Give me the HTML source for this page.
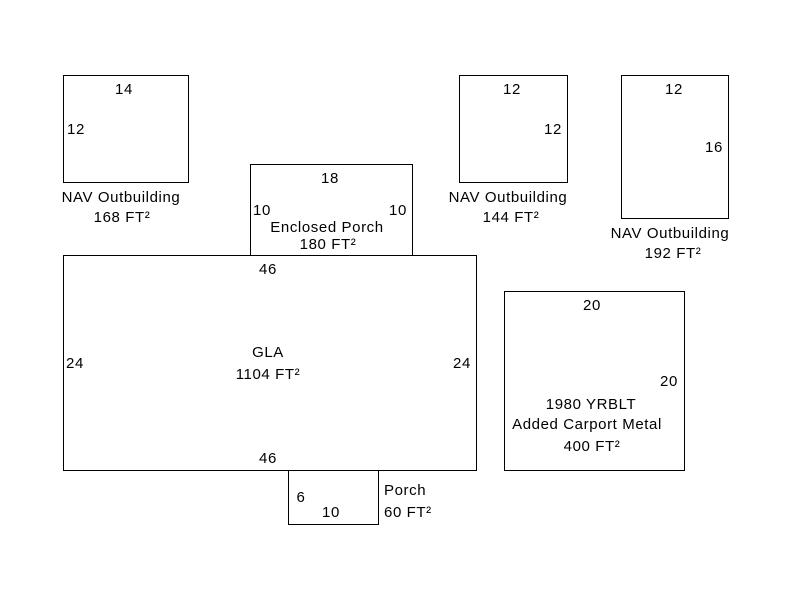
<!DOCTYPE html>
<html><head><style>body{margin:0;background:#fff}svg{display:block}</style></head><body>
<svg width="800" height="600" xmlns="http://www.w3.org/2000/svg" font-family="Liberation Sans, Arial, sans-serif" font-size="15" fill="#000">
<g fill="none" stroke="#000" stroke-width="1">
<rect x="63.5" y="75.5" width="125" height="107"/>
<rect x="250.5" y="164.5" width="162" height="91"/>
<rect x="459.5" y="75.5" width="108" height="107"/>
<rect x="621.5" y="75.5" width="107" height="143"/>
<rect x="63.5" y="255.5" width="413" height="215"/>
<rect x="504.5" y="291.5" width="180" height="179"/>
<rect x="288.5" y="470.5" width="90" height="54"/>
</g>
<g text-anchor="middle" letter-spacing="0.6">
<text x="124" y="94">14</text>
<text x="76" y="134">12</text>
<text x="121" y="202">NAV Outbuilding</text>
<text x="122" y="222">168 FT²</text>
<text x="330" y="183">18</text>
<text x="262" y="215">10</text>
<text x="398" y="215">10</text>
<text x="327" y="232">Enclosed Porch</text>
<text x="328" y="249">180 FT²</text>
<text x="512" y="94">12</text>
<text x="553" y="134">12</text>
<text x="508" y="202">NAV Outbuilding</text>
<text x="511" y="222">144 FT²</text>
<text x="674" y="94">12</text>
<text x="714" y="152">16</text>
<text x="670" y="238">NAV Outbuilding</text>
<text x="673" y="258">192 FT²</text>
<text x="268" y="274">46</text>
<text x="75" y="368">24</text>
<text x="462" y="368">24</text>
<text x="268" y="357">GLA</text>
<text x="268" y="379">1104 FT²</text>
<text x="268" y="463">46</text>
<text x="592" y="310">20</text>
<text x="669" y="386">20</text>
<text x="591" y="409">1980 YRBLT</text>
<text x="587" y="429">Added Carport Metal</text>
<text x="592" y="451">400 FT²</text>
<text x="301" y="502">6</text>
<text x="331" y="517">10</text>
</g>
<g letter-spacing="0.6">
<text x="384" y="495">Porch</text>
<text x="384" y="517">60 FT²</text>
</g>
</svg>
</body></html>
